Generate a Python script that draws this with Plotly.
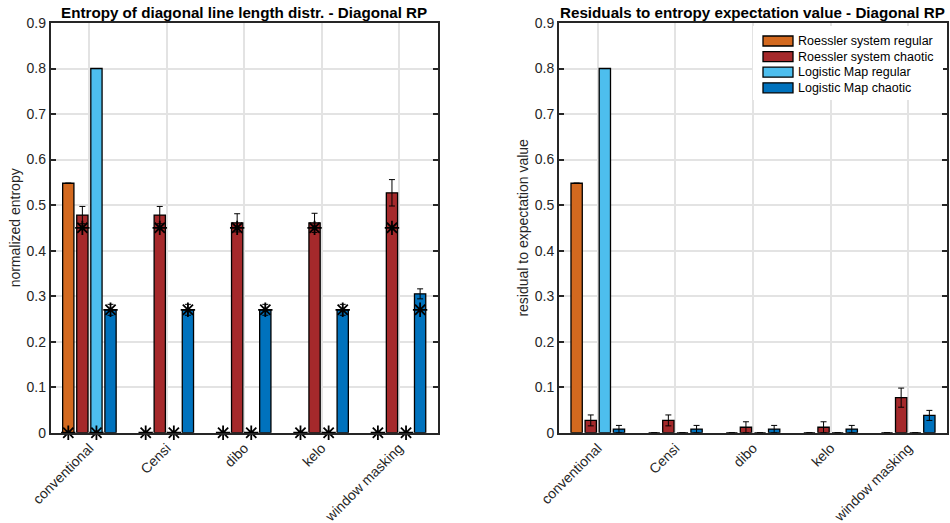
import plotly.graph_objects as go

categories = ["conventional", "Censi", "dibo", "kelo", "window masking"]
series_names = ["Roessler system regular", "Roessler system chaotic",
                "Logistic Map regular", "Logistic Map chaotic"]
colors = ["#D3691F", "#A5292B", "#4DBEEE", "#0072BD"]

# Left panel: normalized entropy (mean) and std
ent_roe_reg = [0.548, 0.0, 0.0, 0.0, 0.0]
ent_roe_cha = [0.478, 0.478, 0.461, 0.461, 0.527]
ent_log_reg = [0.800, 0.0, 0.0, 0.0, 0.0]
ent_log_cha = [0.270, 0.270, 0.270, 0.270, 0.305]
ent_roe_reg_err = [0.0, 0.0, 0.0, 0.0, 0.0]
ent_roe_cha_err = [0.019, 0.019, 0.020, 0.021, 0.029]
ent_log_reg_err = [0.0, 0.0, 0.0, 0.0, 0.0]
ent_log_cha_err = [0.012, 0.012, 0.012, 0.012, 0.011]
# expectation values (asterisks)
exp_roe_reg = [0.0, 0.0, 0.0, 0.0, 0.0]
exp_roe_cha = [0.45, 0.45, 0.45, 0.45, 0.45]
exp_log_reg = [0.0, 0.0, 0.0, 0.0, 0.0]
exp_log_cha = [0.27, 0.27, 0.27, 0.27, 0.27]

# Right panel: residuals
res_roe_reg = [0.548, 0.0, 0.0, 0.0, 0.0]
res_roe_cha = [0.027, 0.027, 0.012, 0.012, 0.077]
res_log_reg = [0.800, 0.0, 0.0, 0.0, 0.0]
res_log_cha = [0.008, 0.008, 0.008, 0.008, 0.038]
res_roe_reg_err = [0.0, 0.0, 0.0, 0.0, 0.0]
res_roe_cha_err = [0.012, 0.012, 0.012, 0.012, 0.021]
res_log_reg_err = [0.0, 0.0, 0.0, 0.0, 0.0]
res_log_cha_err = [0.008, 0.008, 0.008, 0.008, 0.011]

yticks = [0, 0.1, 0.2, 0.3, 0.4, 0.5, 0.6, 0.7, 0.8, 0.9]
ytick_text = ["0", "0.1", "0.2", "0.3", "0.4", "0.5", "0.6", "0.7", "0.8", "0.9"]

W, H = 950, 523
n = len(series_names)
group_w = n / (n + 1.5)
slot = group_w / n
bar_w = 0.8 * slot
offsets = [(k - (n - 1) / 2) * slot for k in range(n)]
idx = list(range(len(categories)))

fig = go.Figure()

left_vals = [ent_roe_reg, ent_roe_cha, ent_log_reg, ent_log_cha]
left_errs = [ent_roe_reg_err, ent_roe_cha_err, ent_log_reg_err, ent_log_cha_err]
left_exp = [exp_roe_reg, exp_roe_cha, exp_log_reg, exp_log_cha]
right_vals = [res_roe_reg, res_roe_cha, res_log_reg, res_log_cha]
right_errs = [res_roe_reg_err, res_roe_cha_err, res_log_reg_err, res_log_cha_err]

for panel, (vals, errs, xa, ya) in enumerate([(left_vals, left_errs, "x", "y"),
                                              (right_vals, right_errs, "x2", "y2")]):
    for k in range(n):
        xs = [i + offsets[k] for i in idx]
        fig.add_trace(go.Bar(
            x=xs, y=vals[k], width=bar_w, xaxis=xa, yaxis=ya,
            marker=dict(color=colors[k], line=dict(color="#000000", width=1.3)),
            error_y=dict(type="data", array=errs[k], color="#000000",
                         thickness=1, width=3, visible=True),
            name=series_names[k], showlegend=False,
        ))

for k in range(n):
    xs = [i + offsets[k] for i in idx]
    fig.add_trace(go.Scatter(
        x=xs, y=left_exp[k], mode="markers", xaxis="x", yaxis="y",
        marker=dict(symbol="asterisk-open", size=12, color="#000000",
                    line=dict(color="#000000", width=1.8)),
        showlegend=False, cliponaxis=False,
    ))

axcol = "#262626"
x_left = (50.7 / W, 437.7 / W)
x_right = (559 / W, 947 / W)
y_dom = (1 - 432.7 / H, 1 - 23 / H)

common_x = dict(range=[-0.5, len(categories) - 0.5], tickmode="array", tickvals=idx,
                ticktext=categories, tickangle=-45, showgrid=True, gridcolor="#e3e3e3",
                gridwidth=1.5, showline=True, linecolor=axcol, linewidth=1.8,
                mirror="ticks", ticks="inside", ticklen=0, tickcolor=axcol,
                tickfont=dict(family="Liberation Sans, Arial", size=14, color=axcol),
                zeroline=False, fixedrange=True, automargin=False)
common_y = dict(range=[0, 0.9], tickmode="array", tickvals=yticks, ticktext=ytick_text,
                showgrid=True, gridcolor="#e3e3e3", gridwidth=1.5, showline=True,
                linecolor=axcol, linewidth=1.8, mirror="ticks", ticks="inside",
                ticklen=5, tickwidth=1.8, tickcolor=axcol,
                tickfont=dict(family="Liberation Sans, Arial", size=14, color=axcol),
                zeroline=False, domain=list(y_dom), fixedrange=True, automargin=False)

fig.update_layout(
    width=W, height=H, margin=dict(l=0, r=0, t=0, b=0),
    paper_bgcolor="white", plot_bgcolor="white", showlegend=False,
    barmode="overlay",
    xaxis=dict(common_x, domain=list(x_left), anchor="y"),
    yaxis=dict(common_y, anchor="x",
               title=dict(text="normalized entropy", standoff=3,
                          font=dict(family="Liberation Sans, Arial", size=14, color=axcol))),
    xaxis2=dict(common_x, domain=list(x_right), anchor="y2"),
    yaxis2=dict(common_y, anchor="x2",
                title=dict(text="residual to expectation value", standoff=3,
                           font=dict(family="Liberation Sans, Arial", size=14, color=axcol))),
)

titles = ["Entropy of diagonal line length distr. - Diagonal RP",
          "Residuals to entropy expectation value - Diagonal RP"]
for t, (x0, x1) in zip(titles, [x_left, x_right]):
    fig.add_annotation(text="<b>" + t + "</b>", xref="paper", yref="paper",
                       x=(x0 + x1) / 2, y=1 - 12 / H, xanchor="center", yanchor="middle",
                       showarrow=False,
                       font=dict(family="Liberation Sans, Arial", size=15.2, color="#000000"))

# manual legend (inside right axes, top-right)
lg_x0, lg_y0, lg_x1, lg_y1 = 753, 26, 943, 100
fig.add_shape(type="rect", xref="paper", yref="paper",
              x0=lg_x0 / W, x1=lg_x1 / W, y0=1 - lg_y1 / H, y1=1 - lg_y0 / H,
              fillcolor="white", line=dict(color="white", width=0), layer="above")
for k in range(n):
    yc = 41 + k * 15.6
    fig.add_shape(type="rect", xref="paper", yref="paper",
                  x0=763 / W, x1=793 / W, y0=1 - (yc + 5) / H, y1=1 - (yc - 5) / H,
                  fillcolor=colors[k], line=dict(color="#000000", width=1.3), layer="above")
    fig.add_annotation(text=series_names[k], xref="paper", yref="paper",
                       x=796 / W, y=1 - yc / H, xanchor="left", yanchor="middle",
                       showarrow=False,
                       font=dict(family="Liberation Sans, Arial", size=12.5, color="#000000"))

fig.write_html("out.html")
